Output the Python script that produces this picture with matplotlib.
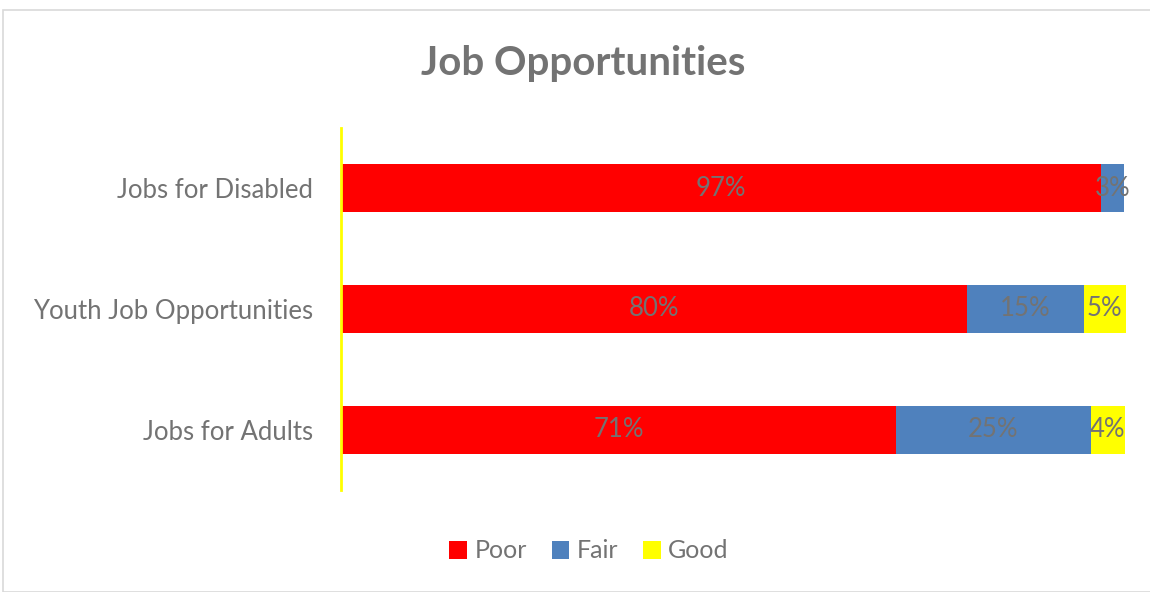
import matplotlib
matplotlib.use("Agg")
import matplotlib.pyplot as plt
from matplotlib.patches import Rectangle

categories = ["Jobs for Adults", "Youth Job Opportunities", "Jobs for Disabled"]
poor = [70.7, 79.7, 96.8]
fair = [24.8, 14.9, 3.0]
good = [4.4, 5.4, 0.0]
series_names = ["Poor", "Fair", "Good"]
colors = ["#FF0000", "#4F81BD", "#FFFF00"]

plt.rcParams['font.family'] = ['Lato', 'DejaVu Sans']
gray = "#737373"

fig = plt.figure(figsize=(11.5, 5.92), dpi=100)
fig.patches.append(Rectangle((3/1150, 0.0), 1.2, 1 - 10/592, transform=fig.transFigure,
                             fill=False, edgecolor="#D9D9D9", linewidth=1.2))
ax = fig.add_axes([341/1150, 1 - 490/592, 785/1150, 362/592])

y = list(range(len(categories)))
left = [0.0] * len(categories)
for name, vals, col in zip(series_names, [poor, fair, good], colors):
    ax.barh(y, vals, left=left, height=0.4, color=col, label=name)
    for i, v in enumerate(vals):
        if v > 0:
            ax.text(left[i] + v / 2, y[i], f"{round(v):d}%", ha="center", va="center",
                    fontsize=18.5, color=gray)
    left = [l + v for l, v in zip(left, vals)]

ax.set_xlim(0, 100)
ax.set_ylim(-0.5, 2.5)
ax.set_yticks(y)
ax.set_yticklabels(categories, fontsize=18.5, color=gray)
ax.tick_params(axis="y", length=0, pad=20)
ax.set_xticks([])
for s in ["top", "right", "bottom"]:
    ax.spines[s].set_visible(False)
ax.spines["left"].set_color("#FFFF00")
ax.spines["left"].set_linewidth(2)

fig.text(583/1150, 1 - 63/592, "Job Opportunities", ha="center", va="center",
         fontsize=29, fontweight="bold", color=gray)

leg = fig.legend(loc="center", bbox_to_anchor=(589/1150, 1 - 551/592), ncol=3,
                 frameon=False, fontsize=18, handlelength=0.7, handleheight=0.7,
                 handletextpad=0.3, columnspacing=1.0)
for t in leg.get_texts():
    t.set_color(gray)

fig.savefig("out.png", dpi=100)
